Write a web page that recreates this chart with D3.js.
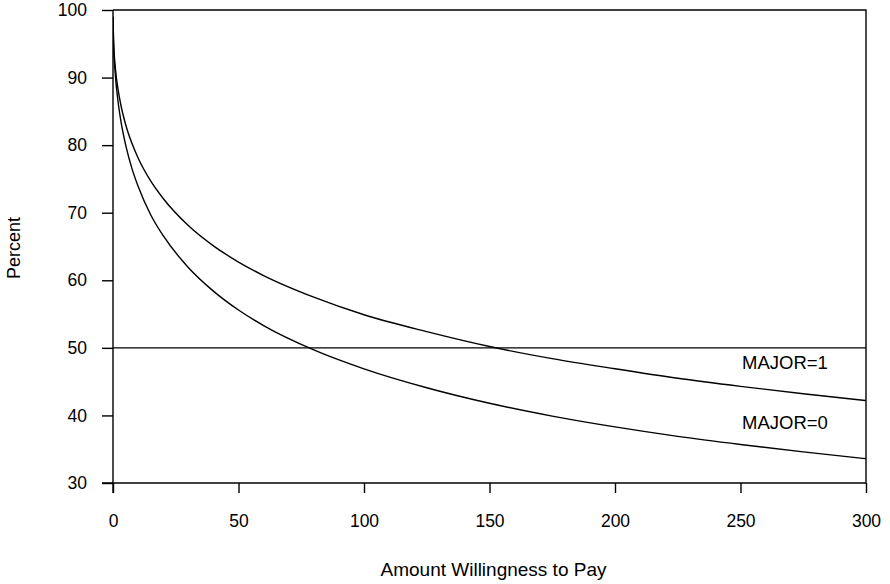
<!DOCTYPE html>
<html>
<head>
<meta charset="utf-8">
<script src="https://cdn.jsdelivr.net/npm/d3@7"></script>
<style>
  body { margin: 0; background: #fff; }
  text { font-family: "Liberation Sans", Arial, sans-serif; fill: #000; }
</style>
</head>
<body>
<div id="vis"></div>
<script>
// values
const amounts = [0.01, 0.2, 1, 2, 3, 5, 7.5, 10, 15, 20, 30, 40, 50, 60, 80, 100, 125, 150, 175, 200, 225, 250, 275, 300];
const major1 = [99.0, 95.7, 91.2, 88.3, 86.2, 83.1, 80.3, 78.1, 74.7, 72.1, 68.1, 65.1, 62.7, 60.7, 57.5, 54.9, 52.4, 50.2, 48.4, 46.9, 45.5, 44.3, 43.2, 42.2];
const major0 = [99.0, 95.3, 90.1, 86.5, 83.9, 80.1, 76.6, 73.9, 69.7, 66.6, 61.9, 58.4, 55.6, 53.3, 49.7, 46.9, 44.1, 41.8, 39.9, 38.3, 36.9, 35.7, 34.6, 33.6];
const xTicks = [0, 50, 100, 150, 200, 250, 300];
const yTicks = [30, 40, 50, 60, 70, 80, 90, 100];
const refLine = 50;
const seriesLabels = [
    { name: 'MAJOR=1', y: 46.8 },
    { name: 'MAJOR=0', y: 38.0 }
];

const W = 890, H = 584;
const plotL = 113, plotR = 866, plotT = 10, plotB = 483;

const svg = d3.select('#vis')
    .append('svg')
    .attr('width', W)
    .attr('height', H);

const x = d3.scaleLinear().domain([0, 300]).range([plotL, plotR]);
const y = d3.scaleLinear().domain([30, 100]).range([plotB, plotT]);

// frame (top + right)
svg.append('path')
    .attr('d', `M${plotL},${plotT}H${plotR}V${plotB}`)
    .attr('fill', 'none')
    .attr('stroke', '#000')
    .attr('stroke-width', 1.4);

// axes
const xAxis = d3.axisBottom(x).tickValues(xTicks).tickSize(10).tickPadding(22).tickFormat(d3.format('d'));
const yAxis = d3.axisLeft(y).tickValues(yTicks).tickSize(11).tickPadding(15).tickFormat(d3.format('d'));

svg.append('g')
    .attr('transform', `translate(0,${plotB})`)
    .call(xAxis)
    .call(g => g.select('.domain').attr('d', `M${plotL - 11},0H${plotR}`))
    .call(g => g.selectAll('line, path').attr('stroke', '#000').attr('stroke-width', 1.4))
    .call(g => g.selectAll('text').style('font-size', '17.5px').attr('font-family', null));

svg.append('g')
    .attr('transform', `translate(${plotL},0)`)
    .call(yAxis)
    .call(g => g.select('.domain').attr('d', `M0,${plotT}V${plotB + 10}`))
    .call(g => g.selectAll('line, path').attr('stroke', '#000').attr('stroke-width', 1.4))
    .call(g => g.selectAll('text').style('font-size', '17.5px').attr('font-family', null));

// 50% line
svg.append('line')
    .attr('x1', plotL).attr('x2', plotR)
    .attr('y1', y(refLine)).attr('y2', y(refLine))
    .attr('stroke', '#000')
    .attr('stroke-width', 1.2);

svg.append('clipPath').attr('id', 'plot')
    .append('rect')
    .attr('x', plotL).attr('y', plotT)
    .attr('width', plotR - plotL).attr('height', plotB - plotT);

const line = d3.line()
    .x(d => x(d[0]))
    .y(d => y(d[1]))
    .curve(d3.curveMonotoneX);

[major1, major0].forEach(vals => {
    svg.append('path')
        .datum(amounts.map((a, i) => [a, vals[i]]))
        .attr('clip-path', 'url(#plot)')
        .attr('fill', 'none')
        .attr('stroke', '#000')
        .attr('stroke-width', 1.4)
        .attr('d', line);
});

// series labels
svg.selectAll('.series-label')
    .data(seriesLabels)
    .join('text')
    .attr('class', 'series-label')
    .attr('x', 742)
    .attr('y', d => y(d.y))
    .style('font-size', '18.5px')
    .text(d => d.name);

// axis titles
svg.append('text')
    .attr('x', (plotL + plotR) / 2 + 4)
    .attr('y', 576)
    .attr('text-anchor', 'middle')
    .style('font-size', '19px')
    .text('Amount Willingness to Pay');

svg.append('text')
    .attr('transform', 'rotate(-90)')
    .attr('x', -248)
    .attr('y', 20)
    .attr('text-anchor', 'middle')
    .style('font-size', '18px')
    .text('Percent');
</script>
</body>
</html>
